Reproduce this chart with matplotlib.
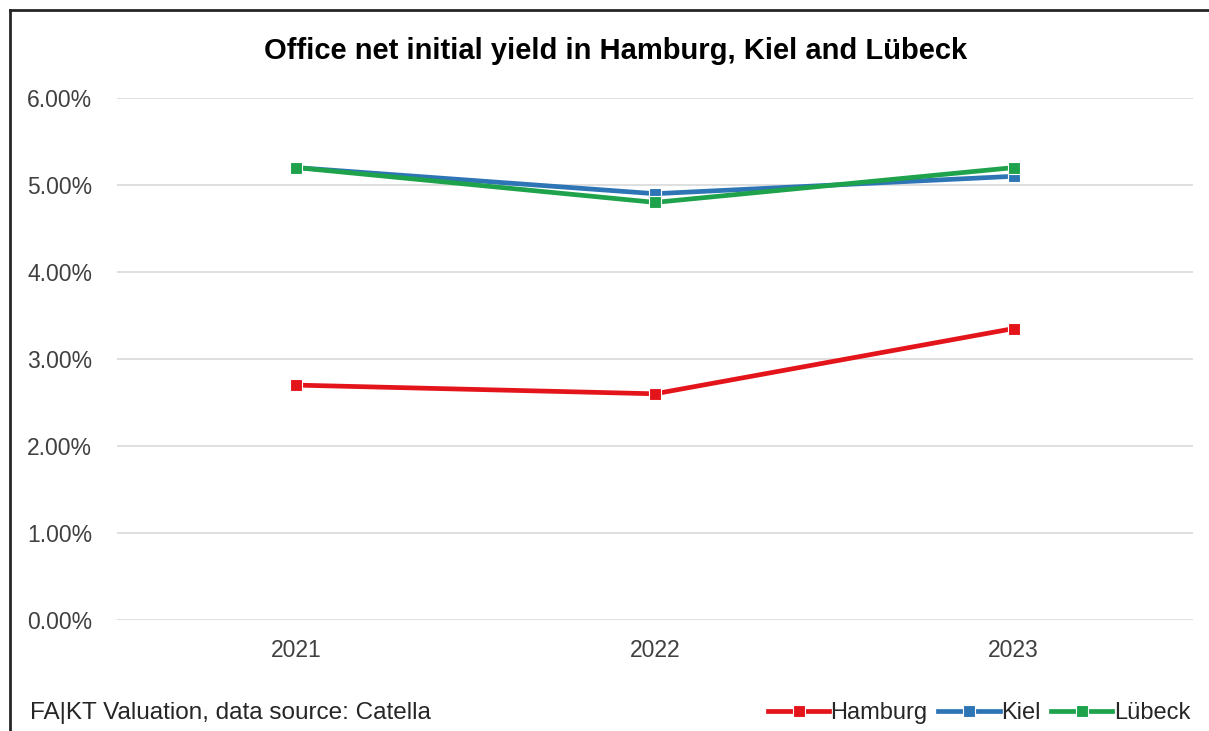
import matplotlib
matplotlib.use("Agg")
import matplotlib.pyplot as plt
from matplotlib.lines import Line2D
from matplotlib.ticker import FuncFormatter

plt.rcParams['font.family'] = ['Liberation Sans', 'DejaVu Sans']

years = ["2021", "2022", "2023"]
hamburg = [2.70, 2.60, 3.35]
kiel = [5.20, 4.90, 5.10]
luebeck = [5.20, 4.80, 5.20]
series_names = ["Hamburg", "Kiel", "Lübeck"]
colors = ["#E4141B", "#2E75B6", "#1EA24B"]

W, H = 1209, 731
fig = plt.figure(figsize=(W / 100, H / 100), dpi=100)
ax = fig.add_axes([117 / W, 1 - 620 / H, (1193 - 117) / W, (620 - 98) / H])

x = list(range(len(years)))
for vals, name, c in zip([hamburg, kiel, luebeck], series_names, colors):
    ax.plot(x, vals, color=c, lw=3.4, marker='s', markersize=8,
            markeredgecolor='white', markeredgewidth=0.8, label=name, zorder=3)

ax.set_xlim(-0.5, 2.5)
ax.set_ylim(0, 6)
ax.set_yticks([0, 1, 2, 3, 4, 5, 6])
ax.yaxis.set_major_formatter(FuncFormatter(lambda v, p: f"{v:.2f}%"))
ax.set_xticks(x)
ax.set_xticklabels(years)
ax.grid(axis='y', color='#D9D9D9', lw=1.2)
ax.set_axisbelow(True)
for s in ax.spines.values():
    s.set_visible(False)
ax.tick_params(axis='both', length=0, labelsize=16.5, colors='#404040')
ax.tick_params(axis='y', pad=18)
ax.tick_params(axis='x', pad=14)
for lab in ax.get_yticklabels() + ax.get_xticklabels():
    lab.set_color('#404040')

fig.text(616 / W, 1 - 51 / H, "Office net initial yield in Hamburg, Kiel and Lübeck",
         ha='center', va='center', fontsize=21, fontweight='bold', color='black')
fig.text(30 / W, 1 - 713 / H, "FA|KT Valuation, data source: Catella",
         ha='left', va='center', fontsize=17.5, color='#262626')

leg = fig.legend(loc='center right', bbox_to_anchor=(1190 / W, 1 - 713 / H),
                 ncol=3, frameon=False, fontsize=17, handlelength=2.6,
                 handletextpad=0.05, columnspacing=0.45, borderaxespad=0,
                 borderpad=0)
for t in leg.get_texts():
    t.set_color('#262626')

# outer frame
fig.add_artist(Line2D([10 / W, 10 / W], [1 - 10 / H, 0], transform=fig.transFigure,
                      color='#262626', lw=2))
fig.add_artist(Line2D([10 / W, 1], [1 - 10 / H, 1 - 10 / H], transform=fig.transFigure,
                      color='#262626', lw=2))

fig.savefig("out.png", dpi=100, facecolor='white')
